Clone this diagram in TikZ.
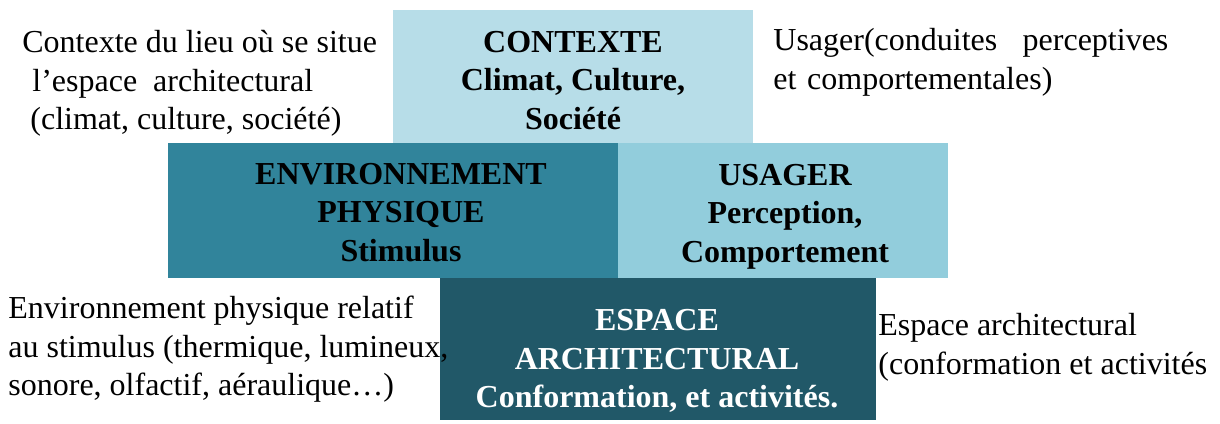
\documentclass[tikz,border=0pt]{standalone}
\usepackage{fontspec}
\setmainfont{Liberation Serif}
\usepackage{tikz}

\definecolor{ctxblue}{HTML}{B7DDE8}
\definecolor{envteal}{HTML}{31849B}
\definecolor{usablue}{HTML}{92CDDC}
\definecolor{espdark}{HTML}{215868}

\begin{document}
\begin{tikzpicture}[x=0.5pt, y=-0.5pt,
    box/.style={rectangle, inner sep=0pt},
    boxtext/.style={inner sep=0pt, align=center,
      font=\fontsize{16}{19.25}\selectfont\bfseries},
    note/.style={inner sep=0pt, align=left, anchor=north west,
      font=\fontsize{16}{19.25}\selectfont}]

        \useasboundingbox (0,0) rectangle (1220,423);

        %Contexte
        \node [box, fill=ctxblue, minimum width=180pt, minimum height=66.5pt] (contexte) at (573,76.5) {};
        \node [boxtext] (ctxtext) at (573,80.5) {CONTEXTE\\Climat, Culture,\\Société};
        %Environnement physique
        \node [box, fill=envteal, minimum width=225pt, minimum height=67.5pt] (envphys) at (393,210.5) {};
        \node [boxtext] (envtext) at (401,212.5) {ENVIRONNEMENT\\PHYSIQUE\\Stimulus};
        %Usager
        \node [box, fill=usablue, minimum width=165pt, minimum height=67.5pt] (usager) at (783,210.5) {};
        \node [boxtext] (usatext) at (785,216.5) {USAGER\\Perception,\\Comportement};
        %Espace architectural
        \node [box, fill=espdark, minimum width=218pt, minimum height=71pt] (espace) at (658,349) {};
        \node [boxtext, text=white] (esptext) at (657,361) {ESPACE\\ARCHITECTURAL\\Conformation, et activités.};

        %Notes
        \node [note] (ctxnote) at (22,30)
          {Contexte du lieu où se situe\\\hspace{5pt}l’espace\hspace{4pt} architectural\\\hspace{4pt}(climat, culture, société)};
        \node [note, text width=197.5pt] (usanote) at (773,28)
          {Usager(conduites\hfill perceptives\\et comportementales)};
        \node [note] (envnote) at (8,296)
          {Environnement physique relatif\\au stimulus (thermique, lumineux,\\sonore, olfactif, aéraulique…)};
        \node [note] (espnote) at (878,313)
          {Espace architectural\\(conformation et activités};
      \end{tikzpicture}
\end{document}
